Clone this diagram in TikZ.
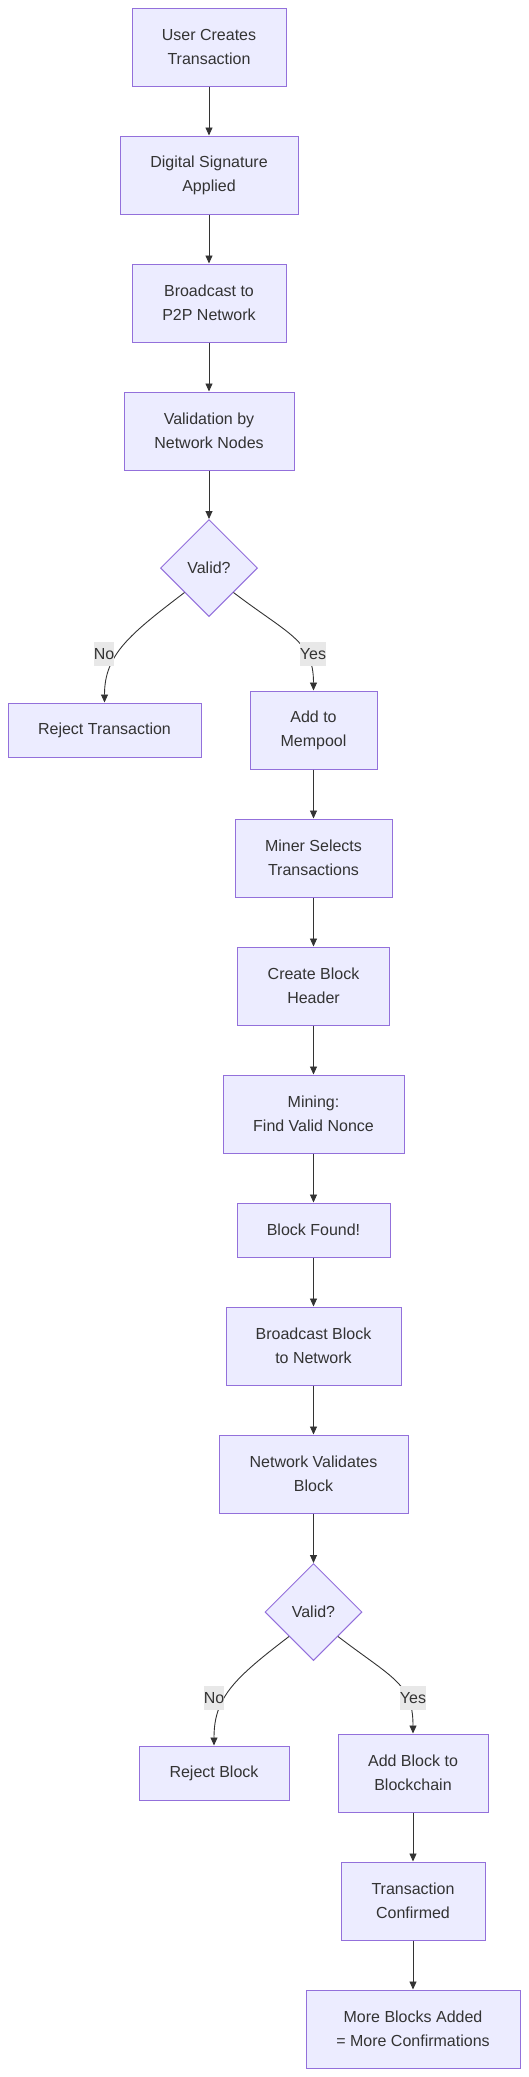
\documentclass[tikz,border=0pt]{standalone}
\usepackage{fontspec}
\setmainfont{Liberation Sans}
\usetikzlibrary{shapes.geometric,arrows.meta}
\definecolor{boxfill}{HTML}{ECECFF}
\definecolor{boxline}{HTML}{9370DB}
\definecolor{ink}{HTML}{333333}
\definecolor{lblfill}{HTML}{E8E8E8}
\tikzset{
	stepbox/.style={draw=boxline, fill=boxfill, line width=1pt, minimum height=78pt,
		inner sep=0pt, align=center, text=ink, font=\fontsize{16pt}{24pt}\selectfont},
	flatbox/.style={stepbox, minimum height=54pt},
	choice/.style={diamond, draw=boxline, fill=boxfill, line width=1pt, minimum width=97pt,
		minimum height=97pt, inner sep=0pt, text=ink, font=\fontsize{16pt}{24pt}\selectfont},
	flow/.style={draw=ink, line width=0.9pt, -{Triangle[length=8pt,width=7pt]}},
	lbl/.style={fill=lblfill, inner sep=0pt, text height=17pt, text depth=7pt, text=ink,
		font=\fontsize{16pt}{24pt}\selectfont}
}
\begin{document}
\begin{tikzpicture}[x=1pt,y=-1pt]
		\useasboundingbox (0,0) rectangle (528,2077);
		% transaction side
		\node[stepbox, minimum width=154pt] (create) at (209,47) {User Creates\\Transaction};
		\node[stepbox, minimum width=178pt] (sign) at (209,175) {Digital Signature\\Applied};
		\node[stepbox, minimum width=154pt] (bcast) at (209,303) {Broadcast to\\P2P Network};
		\node[stepbox, minimum width=170pt] (check) at (209,431) {Validation by\\Network Nodes};
		\node[choice] (valid1) at (209,568) {Valid?};
		\node[flatbox, minimum width=193pt] (rejtx) at (104.5,730) {Reject Transaction};
		\node[stepbox, minimum width=127pt] (mempool) at (313.5,730) {Add to\\Mempool};
		% block side
		\node[stepbox, minimum width=157pt] (select) at (313.5,858) {Miner Selects\\Transactions};
		\node[stepbox, minimum width=152pt] (header) at (313.5,986) {Create Block\\Header};
		\node[stepbox, minimum width=181pt] (mining) at (313.5,1114) {Mining:\\Find Valid Nonce};
		\node[flatbox, minimum width=153pt] (found) at (313.5,1230) {Block Found!};
		\node[stepbox, minimum width=175pt] (bblock) at (313.5,1346) {Broadcast Block\\to Network};
		\node[stepbox, minimum width=189pt] (netval) at (313.5,1474) {Network Validates\\Block};
		\node[choice] (valid2) at (313.5,1612) {Valid?};
		\node[flatbox, minimum width=150pt] (rejblk) at (214,1773) {Reject Block};
		\node[stepbox, minimum width=150pt] (addblk) at (413,1773) {Add Block to\\Blockchain};
		\node[stepbox, minimum width=144pt] (confirm) at (413,1901) {Transaction\\Confirmed};
		\node[stepbox, minimum width=214pt] (more) at (413,2029) {More Blocks Added\\= More Confirmations};
		% connectors
		\draw[flow] (create) -- (sign);
		\draw[flow] (sign) -- (bcast);
		\draw[flow] (bcast) -- (check);
		\draw[flow] (check) -- (valid1);
		\draw[flow] (valid1.south west) .. controls +(-55,42) and +(0,-48) .. (rejtx.north);
		\draw[flow] (valid1.south east) .. controls +(55,42) and +(0,-50) .. (mempool.north);
		\node[lbl] (no1) at (104,654) {No};
		\node[lbl] (yes1) at (313,654) {Yes};
		\draw[flow] (mempool) -- (select);
		\draw[flow] (select) -- (header);
		\draw[flow] (header) -- (mining);
		\draw[flow] (mining) -- (found);
		\draw[flow] (found) -- (bblock);
		\draw[flow] (bblock) -- (netval);
		\draw[flow] (netval) -- (valid2);
		\draw[flow] (valid2.south west) .. controls +(-55,42) and +(0,-48) .. (rejblk.north);
		\draw[flow] (valid2.south east) .. controls +(55,42) and +(0,-50) .. (addblk.north);
		\node[lbl] (no2) at (214,1698) {No};
		\node[lbl] (yes2) at (413,1698) {Yes};
		\draw[flow] (addblk) -- (confirm);
		\draw[flow] (confirm) -- (more);
	\end{tikzpicture}
\end{document}
